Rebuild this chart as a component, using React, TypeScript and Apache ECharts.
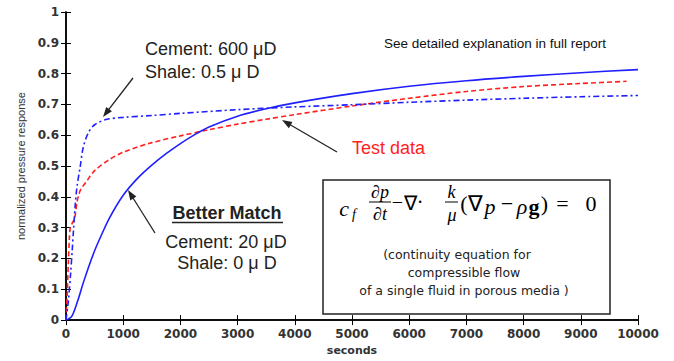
import React, { useEffect, useRef } from "react";
import * as echarts from "echarts";

// ---- data (time in seconds, normalized pressure response) ----
const cement20T = [0, 100, 200, 300, 400, 500, 600, 750, 1000, 1250, 1500, 1750, 2000, 2250, 2500, 3000, 3500, 4000, 5000, 6000, 7000, 8000, 9000, 10000];
const cement20V = [0, 0.012, 0.06, 0.12, 0.175, 0.225, 0.268, 0.328, 0.405, 0.46, 0.503, 0.54, 0.573, 0.602, 0.627, 0.662, 0.686, 0.705, 0.735, 0.759, 0.777, 0.791, 0.803, 0.813];

const testT = [0, 20, 40, 60, 75, 110, 150, 190, 220, 260, 350, 500, 750, 1000, 1500, 2000, 2500, 3000, 3500, 4000, 5000, 6000, 7000, 8000, 9000, 9800];
const testV = [0, 0.08, 0.18, 0.27, 0.3, 0.315, 0.33, 0.38, 0.405, 0.425, 0.448, 0.485, 0.52, 0.545, 0.576, 0.598, 0.618, 0.636, 0.652, 0.667, 0.695, 0.72, 0.742, 0.758, 0.768, 0.775];

const cement600T = [0, 40, 80, 110, 130, 160, 190, 250, 300, 390, 500, 700, 1000, 1500, 2000, 3000, 4000, 5000, 6000, 7000, 8000, 9000, 10000];
const cement600V = [0, 0.06, 0.15, 0.23, 0.29, 0.37, 0.43, 0.5, 0.56, 0.608, 0.634, 0.651, 0.658, 0.664, 0.671, 0.683, 0.692, 0.699, 0.707, 0.714, 0.72, 0.725, 0.729];

const xMin = 0, xMax = 10000, xStep = 1000;
const yMin = 0, yMax = 1, yStep = 0.1;

const pairs = (t: number[], v: number[]) => t.map((x, i) => [x, v[i]]);

function arrow(x1: number, y1: number, x2: number, y2: number) {
  const dx = x2 - x1, dy = y2 - y1;
  const L = Math.hypot(dx, dy);
  const ux = dx / L, uy = dy / L;
  const hl = 10, hw = 3.6;
  const bx = x2 - ux * hl, by = y2 - uy * hl;
  const px = -uy * hw, py = ux * hw;
  return [
    { type: "line", shape: { x1, y1, x2: bx + ux * 2, y2: by + uy * 2 }, style: { stroke: "#222", lineWidth: 1.3 }, z: 100 },
    { type: "polygon", shape: { points: [[x2, y2], [bx + px, by + py], [bx - px, by - py]] }, style: { fill: "#222" }, z: 100 },
  ];
}

function txt(text: string, x: number, y: number, font: string, fill = "#111", align = "center") {
  return {
    type: "text",
    x,
    y,
    z: 100,
    style: { text, font, fill, align, verticalAlign: "middle", textAlign: align, textVerticalAlign: "middle" },
  };
}

const sans18 = "18px 'Liberation Sans', Arial, sans-serif";
const serif = "'Liberation Serif', 'Times New Roman', serif";
const boxFont = "12.5px 'DejaVu Sans', sans-serif";

export default function App() {
  const ref = useRef<HTMLDivElement>(null);
  useEffect(() => {
    if (!ref.current) return;
    const chart = echarts.init(ref.current, undefined, { renderer: "svg" });
    const axisLabelStyle = { color: "#333", fontFamily: "DejaVu Sans", fontWeight: "bold" as const, fontSize: 12 };
    const lineStyleAxis = { color: "#000", width: 1.5 };
    const tick = { show: true, inside: true, length: 5, lineStyle: { color: "#000", width: 1 } };
    const option: any = {
      animation: false,
      backgroundColor: "#fff",
      grid: { left: 66, right: 36, top: 12, bottom: 39, containLabel: false },
      xAxis: [
        {
          type: "value", min: xMin, max: xMax, interval: xStep, position: "bottom",
          name: "seconds", nameLocation: "middle", nameGap: 24,
          nameTextStyle: { color: "#333", fontFamily: "DejaVu Sans", fontWeight: "bold", fontSize: 11 },
          axisLine: { show: true, lineStyle: lineStyleAxis },
          axisTick: tick,
          axisLabel: { ...axisLabelStyle, margin: 8, formatter: (v: number) => String(v) },
          splitLine: { show: false },
        },
        {
          type: "value", min: xMin, max: xMax, interval: xStep, position: "top",
          axisLine: { show: true, lineStyle: lineStyleAxis },
          axisTick: tick,
          axisLabel: { show: false },
          splitLine: { show: false },
        },
      ],
      yAxis: [
        {
          type: "value", min: yMin, max: yMax, interval: yStep, position: "left",
          name: "normalized pressure response", nameLocation: "middle", nameGap: 38, nameRotate: 90,
          nameTextStyle: { color: "#333", fontFamily: "'Liberation Sans', Arial, sans-serif", fontSize: 11 },
          axisLine: { show: true, lineStyle: lineStyleAxis },
          axisTick: tick,
          axisLabel: { ...axisLabelStyle, margin: 7, formatter: (v: number) => String(Math.round(v * 10) / 10) },
          splitLine: { show: false },
        },
        {
          type: "value", min: yMin, max: yMax, interval: yStep, position: "right",
          axisLine: { show: true, lineStyle: lineStyleAxis },
          axisTick: tick,
          axisLabel: { show: false },
          splitLine: { show: false },
        },
      ],
      series: [
        {
          name: "Cement 20 µD, Shale 0 µD", type: "line", data: pairs(cement20T, cement20V),
          showSymbol: false, smooth: 0.3, lineStyle: { color: "#1f1fff", width: 1.6, type: "solid" }, z: 3,
        },
        {
          name: "Test data", type: "line", data: pairs(testT, testV),
          showSymbol: false, smooth: 0.3, lineStyle: { color: "#ff1f1f", width: 1.6, type: [5, 3] }, z: 2,
        },
        {
          name: "Cement 600 µD, Shale 0.5 µD", type: "line", data: pairs(cement600T, cement600V),
          showSymbol: false, smooth: 0.3, lineStyle: { color: "#1f1fff", width: 1.6, type: [6, 3, 2, 3] }, z: 2,
        },
      ],
      graphic: [
        txt("See detailed explanation in full report", 495, 43, "13.5px 'Liberation Sans', Arial, sans-serif", "#111"),
        txt("Cement: 600 \u03bcD", 145, 49, sans18, "#222", "left"),
        txt("Shale: 0.5 \u03bc D", 145, 72, sans18, "#222", "left"),
        ...arrow(133, 78, 103, 117),
        txt("Test data", 352, 148, sans18, "#ff1f1f", "left"),
        ...arrow(337, 152, 282, 120),
        txt("Better Match", 227, 213, "bold " + sans18, "#222"),
        { type: "line", shape: { x1: 172, y1: 222.5, x2: 283, y2: 222.5 }, style: { stroke: "#222", lineWidth: 1.3 }, z: 100 },
        txt("Cement: 20 \u03bcD", 226, 242, sans18, "#222"),
        txt("Shale: 0 \u03bc D", 227, 263, sans18, "#222"),
        ...arrow(155, 233, 128, 190),
        // equation box
        { type: "rect", shape: { x: 323, y: 180, width: 287, height: 134 }, style: { fill: "#fff", stroke: "#222", lineWidth: 1.5 }, z: 90 },
        txt("c", 344, 208, "italic 22px " + serif, "#000"),
        txt("f", 354, 214, "italic 14px " + serif, "#000"),
        txt("\u2202p", 380, 192, "italic 18px " + serif, "#000"),
        { type: "line", shape: { x1: 369, y1: 202, x2: 391, y2: 202 }, style: { stroke: "#000", lineWidth: 1 }, z: 100 },
        txt("\u2202t", 380, 214, "italic 18px " + serif, "#000"),
        txt("\u2212", 397.5, 202, "20px " + serif, "#000"),
        txt("\u2207", 410.5, 203, "20px " + serif, "#000"),
        txt("\u00b7", 420, 202, "20px " + serif, "#000"),
        txt("k", 451.5, 192, "italic 18px " + serif, "#000"),
        { type: "line", shape: { x1: 445, y1: 202, x2: 458, y2: 202 }, style: { stroke: "#000", lineWidth: 1 }, z: 100 },
        txt("\u03bc", 452, 215, "italic 18px " + serif, "#000"),
        txt("(", 464, 203, "22px " + serif, "#000"),
        txt("\u2207", 475.5, 203, "22px " + serif, "#000"),
        txt("p", 490, 206, "italic 22px " + serif, "#000"),
        txt("\u2212", 507, 203, "22px " + serif, "#000"),
        txt("\u03c1", 522, 206, "italic 22px " + serif, "#000"),
        txt("g", 534, 206, "bold 22px " + serif, "#000"),
        txt(")", 544.5, 203, "22px " + serif, "#000"),
        txt("=", 562.5, 203, "22px " + serif, "#000"),
        txt("0", 591, 203, "22px " + serif, "#000"),
        txt("(continuity equation for", 457, 254, boxFont, "#222"),
        txt("compressible flow", 464, 272, boxFont, "#222"),
        txt("of a single fluid in porous media )", 464, 290, boxFont, "#222"),
      ],
    };
    chart.setOption(option);
    return () => chart.dispose();
  }, []);
  return <div ref={ref} style={{ position: "fixed", left: 0, top: 0, width: 674, height: 361 }} />;
}
